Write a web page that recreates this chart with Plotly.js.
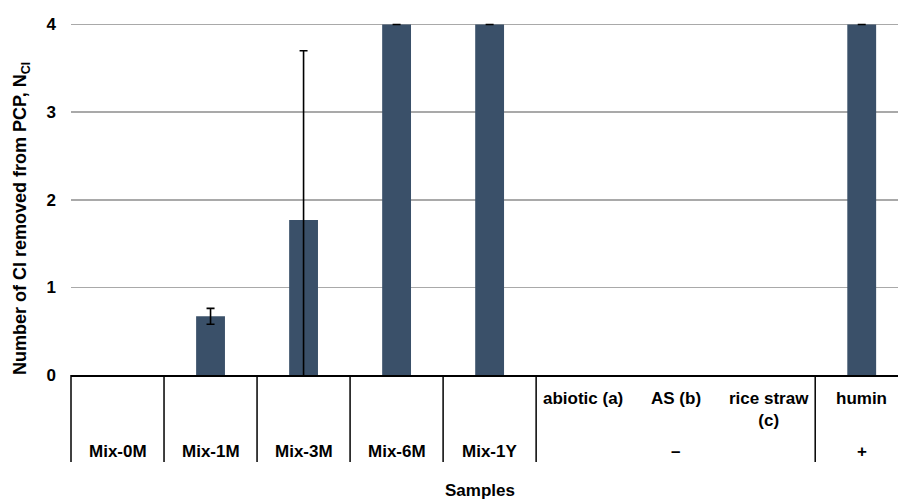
<!DOCTYPE html>
<html>
<head>
<meta charset="utf-8">
<script src="https://cdn.plot.ly/plotly-3.0.1.min.js"></script>
<style>
  html, body { margin: 0; padding: 0; background: #ffffff; }
  #chart { width: 898px; height: 501px; }
</style>
</head>
<body>
<div id="chart"></div>
<script>
// Samples along the x axis (one bar slot each)
const samples = ['Mix-0M', 'Mix-1M', 'Mix-3M', 'Mix-6M', 'Mix-1Y',
                 'abiotic (a)', 'AS (b)', 'rice straw (c)', 'humin'];
// Number of Cl removed from PCP (mean) and its standard deviation
// (NaN = no error bar for that sample)
const nCl    = [0, 0.67, 1.77, 4, 4, 0, 0, 0, 4];
const nClErr = [NaN, 0.09, 1.93, 0, 0, NaN, NaN, NaN, 0];

// Category table below the axis
const rowTopLabels = [null, null, null, null, null, 'abiotic (a)', 'AS (b)', 'rice straw<br>(c)', 'humin'];
const rowBottomLabels = ['Mix-0M', 'Mix-1M', 'Mix-3M', 'Mix-6M', 'Mix-1Y', null, '–', null, '+'];
// Cell boundaries (in category units) that carry a vertical rule
const cellEdges = [-0.5, 0.5, 1.5, 2.5, 3.5, 4.5, 7.5, 8.5];

const yTicks = [0, 1, 2, 3, 4];

const W = 898, H = 501;
const M = { l: 71, r: 0, t: 7, b: 126 };
const xRange = [-0.5, 8.39];
const yRange = [0, 4.2];

const plotW = W - M.l - M.r;
const plotH = H - M.t - M.b;
const toPaperX = v => (v - xRange[0]) / (xRange[1] - xRange[0]);
const pxToPaperY = py => (H - M.b - py) / plotH;   // py measured from top of the page

const boldFont = { family: 'Liberation Sans, Arial, sans-serif', size: 17, color: '#000000', weight: 'bold' };

const shapes = cellEdges.map(e => ({
  type: 'line', xref: 'paper', yref: 'paper',
  x0: toPaperX(e), x1: toPaperX(e),
  y0: 0, y1: pxToPaperY(462),
  line: { color: '#000000', width: 1.5 }
}));

const annotations = [];
samples.forEach((s, i) => {
  if (rowTopLabels[i]) {
    annotations.push({
      x: i, xref: 'x', y: pxToPaperY(387), yref: 'paper',
      yanchor: 'top', xanchor: 'center', showarrow: false,
      text: rowTopLabels[i], font: boldFont, align: 'center'
    });
  }
  if (rowBottomLabels[i]) {
    annotations.push({
      x: i, xref: 'x', y: pxToPaperY(451), yref: 'paper',
      yanchor: 'middle', xanchor: 'center', showarrow: false,
      text: rowBottomLabels[i], font: boldFont
    });
  }
});

// Axis titles
annotations.push({
  x: (480 - M.l) / plotW, xref: 'paper', y: pxToPaperY(490), yref: 'paper',
  xanchor: 'center', yanchor: 'middle', showarrow: false,
  text: 'Samples', font: boldFont
});
annotations.push({
  x: (21 - M.l) / plotW, xref: 'paper', y: pxToPaperY(219), yref: 'paper',
  xanchor: 'center', yanchor: 'middle', showarrow: false, textangle: -90,
  text: 'Number of Cl removed from PCP, N<sub>Cl</sub>',
  font: Object.assign({}, boldFont, { size: 18 })
});

const trace = {
  type: 'bar',
  x: samples,
  y: nCl,
  width: 0.31,
  marker: {
    color: '#3a5069',
    // zero-height bars leave no sliver on the axis line
    opacity: nCl.map(v => (v > 0 ? 1 : 0)),
    line: { width: 0 }
  },
  error_y: {
    type: 'data', array: nClErr, visible: true,
    color: '#000000', thickness: 1.6, width: 4
  },
  hoverinfo: 'x+y'
};

const layout = {
  width: W, height: H,
  margin: M,
  paper_bgcolor: '#ffffff',
  plot_bgcolor: '#ffffff',
  showlegend: false,
  xaxis: {
    type: 'category',
    categoryorder: 'array', categoryarray: samples,
    range: xRange,
    showticklabels: false, ticks: '',
    showgrid: false, zeroline: false,
    showline: true, linecolor: '#000000', linewidth: 1.5,
    fixedrange: true
  },
  yaxis: {
    range: yRange,
    tickvals: yTicks,
    ticktext: yTicks.map(String),
    ticks: '',
    ticklabelstandoff: 14,
    tickfont: boldFont,
    showgrid: true, gridcolor: '#a9a9a9', gridwidth: 1.5,
    zeroline: false, showline: false,
    fixedrange: true
  },
  shapes: shapes,
  annotations: annotations
};

Plotly.newPlot('chart', [trace], layout, { displayModeBar: false, staticPlot: true });
</script>
</body>
</html>
